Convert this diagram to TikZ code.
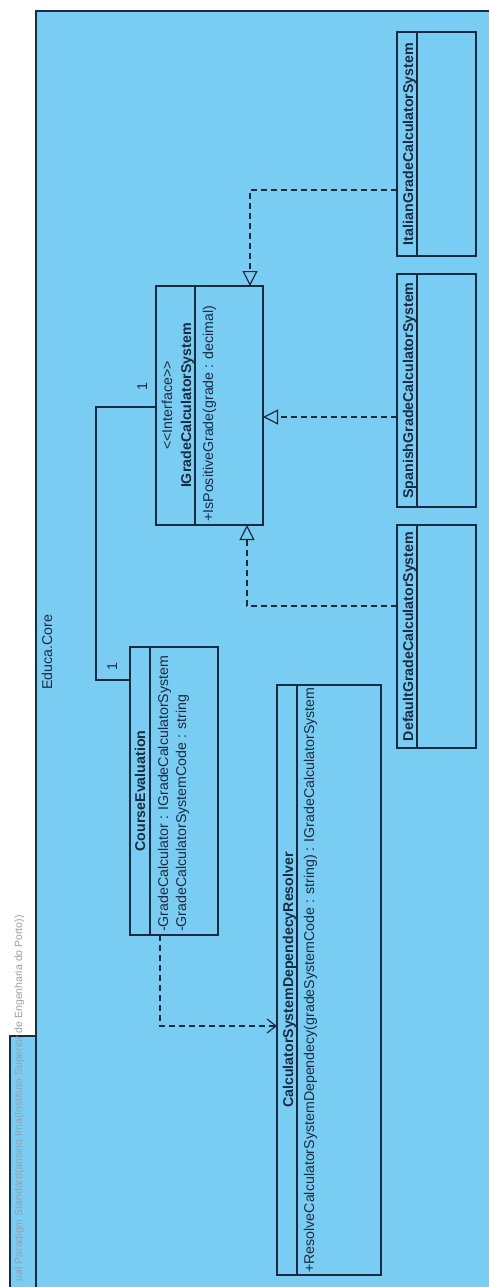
\documentclass[tikz,border=0pt]{standalone}
\usepackage{fontspec}
\setmainfont{Liberation Sans}
\usetikzlibrary{arrows.meta,calc}
\definecolor{pkgblue}{RGB}{122,205,242}
\definecolor{ink}{RGB}{28,42,64}
\definecolor{wm}{RGB}{150,160,172}
\begin{document}
\begin{tikzpicture}[x=1pt,y=-1pt,
  every node/.style={font=\fontsize{14.2}{17}\selectfont, text=ink},
  cls/.style={draw=ink, line width=1.3pt, fill=pkgblue, rectangle, inner sep=0pt, outer sep=0pt},
  pkg/.style={draw=ink, line width=1.4pt, fill=pkgblue, rectangle, inner sep=0pt, outer sep=0pt},
  vtext/.style={rotate=90, inner sep=0pt, anchor=base},
  vleft/.style={rotate=90, inner sep=0pt, anchor=base west},
  bold/.style={font=\fontsize{14.2}{17}\selectfont\bfseries},
  divider/.style={draw=ink, line width=1.3pt},
  realize/.style={draw=ink, line width=1.2pt, dash pattern=on 6pt off 4pt,
    -{Triangle[open,length=15pt,width=15pt]}},
  depend/.style={draw=ink, line width=1.2pt, dash pattern=on 6pt off 4pt,
    -{Straight Barb[length=9pt,width=14pt]}},
  assoc/.style={draw=ink, line width=1.3pt},
]
\useasboundingbox (0,0) rectangle (489,1287);
\fill[white] (0,0) rectangle (489,1287);

% package Educa.Core (frame runs past the page edge)
\begin{scope}
  \clip (0,0) rectangle (489,1287);
  \node[pkg, minimum width=26pt, minimum height=270pt] (tab) at (23,1171) {};
  \node[pkg, minimum width=470pt, minimum height=1300pt] (core) at (271,661) {};
\end{scope}
\node[vtext] (corename) at (52,652) {Educa.Core};
\node[rotate=90, inner sep=0pt, anchor=base east, text=wm,
  font=\fontsize{10.5}{12}\selectfont] (wmark) at (22,915)
  {ual Paradigm Standard(ansino Ima(Instituto Superior de Engenharia do Porto))};

% classes
\node[cls, minimum width=79pt, minimum height=224pt] (it) at (436.5,144) {};
\node[cls, minimum width=79pt, minimum height=233pt] (sp) at (436.5,390.5) {};
\node[cls, minimum width=79pt, minimum height=223pt] (df) at (436.5,636.5) {};
\node[cls, minimum width=107pt, minimum height=239pt] (ig) at (209.5,405.5) {};
\node[cls, minimum width=88pt, minimum height=288pt] (ce) at (174,791) {};
\node[cls, minimum width=104pt, minimum height=590pt] (rs) at (329,980) {};

% compartment dividers
\draw[divider] ($(it.north west)+(20,0)$) -- ($(it.south west)+(20,0)$);
\draw[divider] ($(sp.north west)+(20,0)$) -- ($(sp.south west)+(20,0)$);
\draw[divider] ($(df.north west)+(20,0)$) -- ($(df.south west)+(20,0)$);
\draw[divider] ($(ig.north west)+(39,0)$) -- ($(ig.south west)+(39,0)$);
\draw[divider] ($(ce.north west)+(20,0)$) -- ($(ce.south west)+(20,0)$);
\draw[divider] ($(rs.north west)+(20,0)$) -- ($(rs.south west)+(20,0)$);

% class texts
\node[vtext, bold] (itname) at (413,144) {ItalianGradeCalculatorSystem};
\node[vtext, bold] (spname) at (413,390.5) {SpanishGradeCalculatorSystem};
\node[vtext, bold] (dfname) at (413,636.5) {DefaultGradeCalculatorSystem};

\node[vtext] (igstereo) at (172,405.5)
  {\textless\kern0pt\textless Interface\textgreater\kern0pt\textgreater};
\node[vtext, bold] (igname) at (191,405.5) {IGradeCalculatorSystem};
\node[vleft] (igop) at (213,522) {+IsPositiveGrade(grade : decimal)};

\node[vtext, bold] (cename) at (145,791) {CourseEvaluation};
\node[vleft] (ceattr1) at (168,932) {-GradeCalculator : IGradeCalculatorSystem};
\node[vleft] (ceattr2) at (186,932) {-GradeCalculatorSystemCode : string};

\node[vtext, bold] (rsname) at (293,980) {CalculatorSystemDependecyResolver};
\node[vleft] (rsop) at (314,1273)
  {+ResolveCalculatorSystemDependecy(gradeSystemCode : string) : IGradeCalculatorSystem};

% association CourseEvaluation -- IGradeCalculatorSystem
\draw[assoc] ($(ce.north west)+(0,33)$) -- ++(-34,0) |- ($(ig.north west)+(0,121)$);
\node[vtext] (mult1) at (147,387) {1};
\node[vtext] (mult2) at (117,667) {1};

% realizations
\draw[realize] ($(it.north west)+(0,158)$) -| ($(ig.north west)+(94,0)$);
\draw[realize] ($(sp.north west)+(0,143)$) -- ($(ig.north east)+(0,131)$);
\draw[realize] ($(df.north west)+(0,81)$) -| ($(ig.south west)+(91,0)$);

% dependency
\draw[depend] ($(ce.south west)+(30,0)$) |- ($(rs.north west)+(0,341)$);
\end{tikzpicture}
\end{document}
